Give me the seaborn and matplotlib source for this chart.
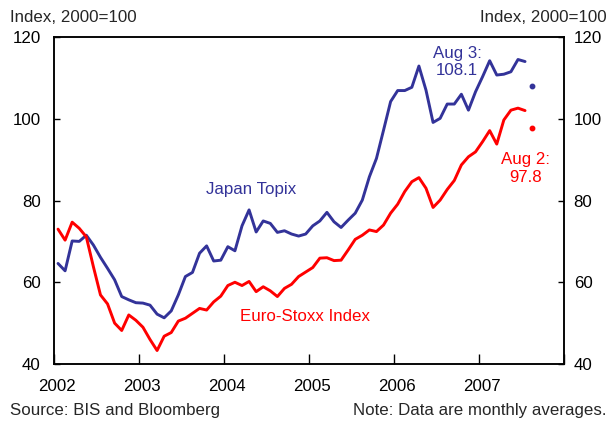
import numpy as np
import pandas as pd
import matplotlib
matplotlib.use("Agg")
import matplotlib.pyplot as plt
import matplotlib.transforms as mtransforms
import seaborn as sns

sns.set_style("ticks")
plt.rcParams['font.family'] = ['Liberation Sans', 'DejaVu Sans']

# monthly averages, Jan 2002 - Jul 2007 (index, 2000=100)
months = pd.date_range("2002-01-01", periods=67, freq="MS")
japan_topix = [64.6, 62.8, 70.1, 70.0, 71.5, 69.1, 66.1, 63.4, 60.6, 56.5, 55.7, 55.0,
               54.9, 54.4, 52.2, 51.3, 53.0, 56.9, 61.4, 62.4, 67.1, 68.9, 65.2, 65.4,
               68.7, 67.7, 73.8, 77.7, 72.3, 75.0, 74.4, 72.2, 72.6, 71.8, 71.3, 71.8,
               73.8, 75.0, 77.1, 74.8, 73.4, 75.2, 76.9, 80.1, 85.8, 90.3, 97.2, 104.2,
               106.9, 106.9, 107.7, 112.9, 107.0, 99.1, 100.1, 103.6, 103.6, 106.0, 102.1, 106.6,
               110.3, 114.2, 110.7, 110.9, 111.5, 114.5, 114.0]
euro_stoxx = [73.0, 70.3, 74.7, 73.2, 71.1, 63.8, 56.9, 54.7, 50.0, 48.2, 52.0, 50.7,
              49.0, 46.0, 43.3, 46.8, 47.7, 50.5, 51.2, 52.4, 53.6, 53.2, 55.2, 56.6,
              59.2, 60.0, 59.2, 60.2, 57.7, 58.9, 57.9, 56.5, 58.5, 59.5, 61.4, 62.5,
              63.6, 65.9, 66.0, 65.3, 65.4, 67.9, 70.5, 71.5, 72.8, 72.4, 74.0, 76.9,
              79.1, 82.2, 84.6, 85.6, 83.0, 78.3, 80.1, 82.7, 84.9, 88.7, 90.7, 91.9,
              94.4, 97.1, 93.8, 99.7, 102.1, 102.6, 102.0]
# latest daily readings
latest_date = pd.Timestamp("2007-08-01")
japan_latest = 108.1
euro_latest = 97.8

blue = "#333399"
red = "#ff0000"
fs = 12.2


def dec_year(d):
    # plotted at mid-month
    return d.year + (d.month - 0.5) / 12


df = pd.DataFrame({"t": [dec_year(d) for d in months],
                   "Japan Topix": japan_topix,
                   "Euro-Stoxx Index": euro_stoxx})

fig = plt.figure(figsize=(6.08, 4.24), dpi=100)
ax = fig.add_axes([0.0896, 0.1415, 0.838, 0.7712])

sns.lineplot(data=df, x="t", y="Japan Topix", color=blue, lw=2.1, ax=ax)
sns.lineplot(data=df, x="t", y="Euro-Stoxx Index", color=red, lw=2.1, ax=ax)
lt = dec_year(latest_date)
ax.plot([lt], [japan_latest], "o", color=blue, ms=3.2)
ax.plot([lt], [euro_latest], "o", color=red, ms=3.2)

ax.set_xlim(2002, 2008)
ax.set_ylim(40, 120)
ax.set_xticks(range(2002, 2009))
ax.set_xticklabels([str(y) for y in range(2002, 2008)] + [""])
ax.set_yticks([40, 60, 80, 100, 120])
ax.set_xlabel("")
ax.set_ylabel("")

ax2 = ax.twinx()
ax2.set_ylim(40, 120)
ax2.set_yticks([40, 60, 80, 100, 120])
ax2.set_ylabel("")

for a in (ax, ax2):
    for s in a.spines.values():
        s.set_visible(True)
        s.set_linewidth(1.1)
        s.set_color("black")
ax.tick_params(axis="x", direction="in", length=7, width=1, pad=11,
               labelsize=fs, colors="black")
ax.tick_params(axis="y", direction="in", length=4, width=1, pad=10,
               labelsize=fs, colors="black", right=False)
ax2.tick_params(axis="y", direction="in", length=4, width=1, pad=7,
                labelsize=fs, colors="black")

# year labels sit a little right of their ticks
shift = mtransforms.ScaledTranslation(3 / 100, 0, fig.dpi_scale_trans)
for lab in ax.get_xticklabels():
    lab.set_transform(lab.get_transform() + shift)

ax.text(2004.32, 82.8, "Japan Topix", color=blue, fontsize=fs, ha="center", va="center")
ax.text(2004.95, 51.7, "Euro-Stoxx Index", color=red, fontsize=fs, ha="center", va="center")
ax.text(2006.74, 113.9, "Aug 3:\n108.1", color=blue, fontsize=fs, ha="center", va="center",
        linespacing=1.2)
ax.text(2007.55, 87.8, "Aug 2:\n97.8", color=red, fontsize=fs, ha="center", va="center",
        linespacing=1.2)

fig.text(0.016, 0.958, "Index, 2000=100", fontsize=fs, ha="left", va="center")
fig.text(0.998, 0.958, "Index, 2000=100", fontsize=fs, ha="right", va="center")
fig.text(0.016, 0.031, "Source: BIS and Bloomberg", fontsize=fs, ha="left", va="center")
fig.text(0.998, 0.031, "Note: Data are monthly averages.", fontsize=fs, ha="right", va="center")

fig.savefig("out.png", dpi=100)
